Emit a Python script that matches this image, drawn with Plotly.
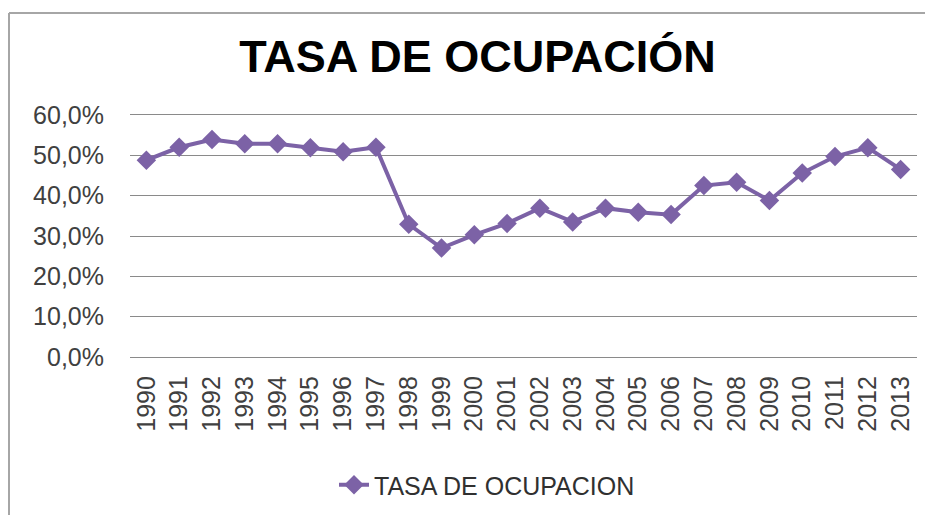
import plotly.graph_objects as go

years = [str(y) for y in range(1990, 2014)]
tasa = [48.8, 52.0, 53.9, 52.9, 52.9, 51.9, 50.9, 52.0, 32.9, 27.0, 30.3, 33.1,
        36.9, 33.5, 36.9, 35.9, 35.3, 42.5, 43.3, 38.8, 45.6, 49.7, 51.9, 46.5]
y_ticks = [0, 10, 20, 30, 40, 50, 60]
y_tick_labels = ["0,0%", "10,0%", "20,0%", "30,0%", "40,0%", "50,0%", "60,0%"]

FONT = "Liberation Sans, Arial, sans-serif"
PURPLE = "#7c62a6"
GRID = "#8a8a8a"

# figure is 925x507 because the page adds an 8px body margin
W, H = 925, 507
L, R, T, B = 122, 16, 107, 158
PW, PH = W - L - R, H - T - B

fig = go.Figure()
fig.add_trace(go.Scatter(
    x=years, y=tasa, mode="lines+markers", name="TASA DE OCUPACION",
    line=dict(color=PURPLE, width=4),
    marker=dict(symbol="diamond", size=15, color=PURPLE),
))

fig.update_layout(
    width=W, height=H,
    margin=dict(l=L, r=R, t=T, b=B),
    paper_bgcolor="white", plot_bgcolor="white",
    font=dict(family=FONT, size=25, color="#404040"),
    title=dict(text="<b>TASA DE OCUPACIÓN</b>", font=dict(family=FONT, size=45, color="black"),
               x=469.5 / W, xanchor="center", xref="container",
               y=1 - 48 / H, yanchor="middle", yref="container"),
    showlegend=True,
    legend=dict(orientation="h", xref="container", yref="container",
                x=326 / W, xanchor="left", y=1 - 477 / H, yanchor="middle",
                font=dict(family=FONT, size=25, color="#303030"),
                bgcolor="rgba(0,0,0,0)"),
    xaxis=dict(type="category", range=[-0.5, len(years) - 0.5], tickangle=-90, showgrid=False,
               showline=True, mirror=True, linecolor=GRID, linewidth=1.3, zeroline=False,
               ticks="outside", ticklen=8, tickcolor="rgba(0,0,0,0)",
               tickfont=dict(family=FONT, size=25, color="#404040")),
    yaxis=dict(range=[0, 60], tickvals=y_ticks, ticktext=y_tick_labels,
               showgrid=True, gridcolor=GRID, gridwidth=1.3, zeroline=False, showline=False,
               ticks="outside", ticklen=20, tickcolor="rgba(0,0,0,0)",
               tickfont=dict(family=FONT, size=25, color="#404040")),
    shapes=[
        dict(type="line", xref="paper", yref="paper",
             x0=(1 - L) / PW, x1=(W + 10 - L) / PW,
             y0=(T + PH - 5) / PH, y1=(T + PH - 5) / PH,
             line=dict(color="#a6a6a6", width=2)),
        dict(type="line", xref="paper", yref="paper",
             x0=(1 - L) / PW, x1=(1 - L) / PW,
             y0=(T + PH - 5) / PH, y1=-(B + 10) / PH,
             line=dict(color="#a6a6a6", width=2)),
    ],
)

fig.write_html("out.html")
